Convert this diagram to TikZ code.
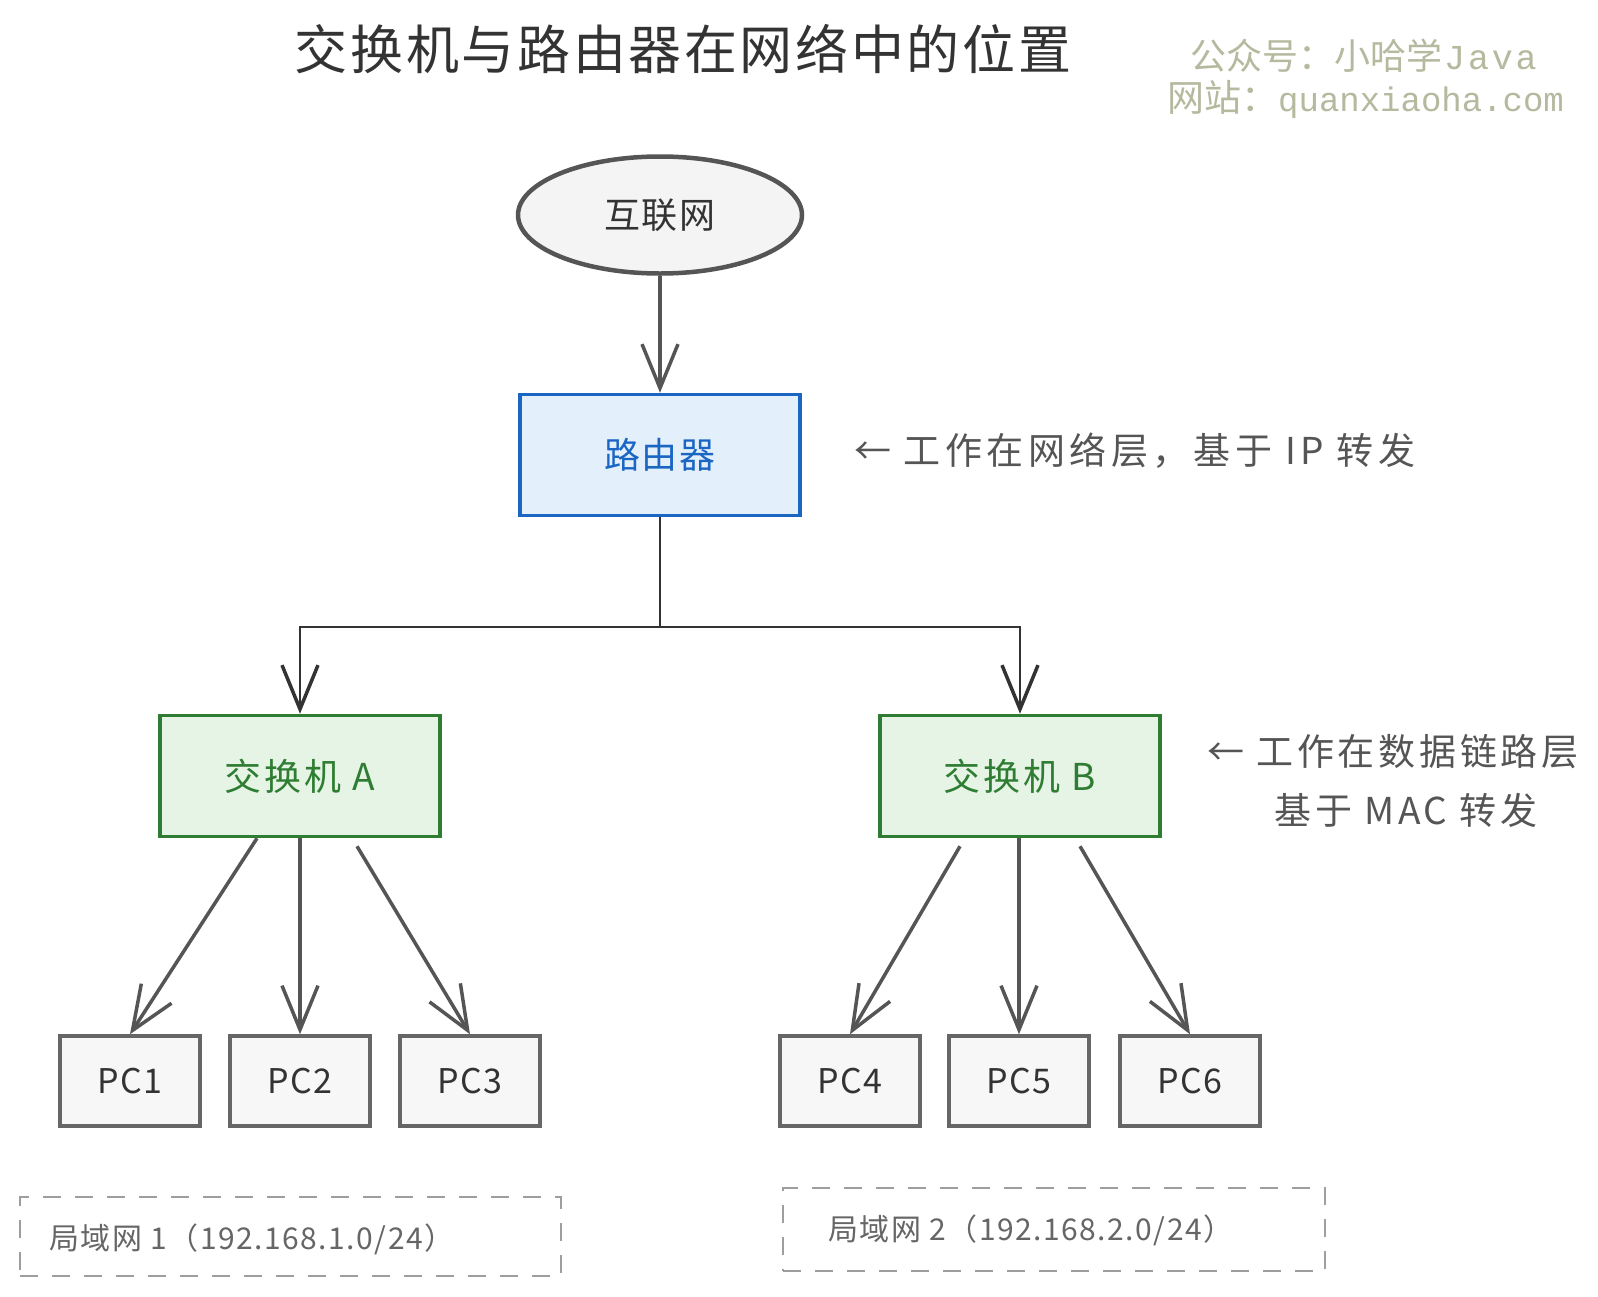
\documentclass[tikz,border=0pt]{standalone}
\usepackage{fontspec}
\setmainfont{Noto Sans CJK SC}
\newfontfamily\spfive{Noto Sans CJK SC}[LetterSpace=5]
\newfontfamily\spten{Noto Sans CJK SC}[LetterSpace=10]
\newfontfamily\sptwelve{Noto Sans CJK SC}[LetterSpace=12]
\newfontfamily\speight{Noto Sans CJK SC}[LetterSpace=8]
\newfontfamily\wmmono{Liberation Mono}
\newfontfamily\wmmonosp{Liberation Mono}[LetterSpace=8]
\usetikzlibrary{shapes.geometric,arrows.meta}
\definecolor{titlec}{HTML}{333333}
\definecolor{wmc}{HTML}{B5B99E}
\definecolor{inetfill}{HTML}{F4F4F4}
\definecolor{inetdraw}{HTML}{555555}
\definecolor{rfill}{HTML}{E3F0FC}
\definecolor{rdraw}{HTML}{1A66C2}
\definecolor{sfill}{HTML}{E5F4E5}
\definecolor{sdraw}{HTML}{2E7D32}
\definecolor{pcfill}{HTML}{F7F7F7}
\definecolor{pcdraw}{HTML}{666666}
\definecolor{annc}{HTML}{555555}
\definecolor{lanc}{HTML}{9E9E9E}
\definecolor{lantext}{HTML}{666666}
\definecolor{arrc}{HTML}{555555}
\definecolor{treec}{HTML}{333333}
\newcommand{\fs}[1]{\fontsize{#1}{#1}\selectfont}
\begin{document}
\begin{tikzpicture}[x=1pt,y=-1pt,
  inet/.style={ellipse, draw=inetdraw, fill=inetfill, line width=4.5pt, minimum width=284pt, minimum height=117pt, inner sep=0pt, text=titlec, font=\spfive\fs{36}},
  router/.style={rectangle, draw=rdraw, fill=rfill, line width=3.5pt, minimum width=280pt, minimum height=121pt, inner sep=0pt, text=rdraw, font=\spfive\fs{36}},
  switchbox/.style={rectangle, draw=sdraw, fill=sfill, line width=3.5pt, minimum width=280pt, minimum height=121pt, inner sep=0pt, text=sdraw, font=\speight\fs{37}},
  pcbox/.style={rectangle, draw=pcdraw, fill=pcfill, line width=3.5pt, minimum width=140pt, minimum height=90pt, inner sep=0pt, text=titlec, font=\spfive\fs{34}},
  annot/.style={inner sep=0pt, text=annc, font=\spten\fs{37}},
  lanbox/.style={rectangle, draw=lanc, line width=2.5pt, dash pattern=on 18pt off 14pt, inner sep=0pt},
  lantxt/.style={inner sep=0pt, anchor=west, text=lantext, font=\spfive\fs{30}},
  wm/.style={inner sep=0pt, anchor=west, text=wmc},
  arr/.style={draw=arrc, line width=3.5pt, -{Straight Barb[length=44pt,width=36pt,line width=3.5pt]}},
  tree/.style={draw=treec, line width=2.4pt},
  treearr/.style={draw=treec, line width=2.8pt, -{Straight Barb[length=44pt,width=36pt,line width=3.5pt]}}
]
\useasboundingbox[fill=white] (0,0) rectangle (1598,1296);

% title and watermark
\node[inner sep=0pt, text=titlec, font=\spfive\fs{53}] (title) at (683,49) {交换机与路由器在网络中的位置};
\node[wm] (wm1) at (1190,56) {\fs{36}公众号：小哈学\hspace{2pt}{\wmmonosp\fs{35}Java}};
\node[wm] (wm2) at (1167,99) {\fs{37}网站：{\wmmono\fs{34}quanxiaoha.com}};

% nodes
\node[inet] (inet) at (660,215) {互联网};
\node[router] (router) at (660,455) {路由器};
\node[annot, anchor=west, font=\sptwelve\fs{37}] (rnote) at (854,451) {← 工作在网络层，基于 IP 转发};

\node[switchbox] (swA) at (300,776) {交换机 A};
\node[switchbox] (swB) at (1020,776) {交换机 B};
\node[annot] (snote1) at (1393,752) {← 工作在数据链路层};
\node[annot] (snote2) at (1406,810) {基于 MAC 转发};

\node[pcbox] (pc1) at (130,1081) {PC1};
\node[pcbox] (pc2) at (300,1081) {PC2};
\node[pcbox] (pc3) at (470,1081) {PC3};
\node[pcbox] (pc4) at (850,1081) {PC4};
\node[pcbox] (pc5) at (1019,1081) {PC5};
\node[pcbox] (pc6) at (1190,1081) {PC6};

% LAN boxes
\node[lanbox, minimum width=541pt, minimum height=79pt] (lan1) at (290.5,1236.5) {};
\node[lantxt] (lan1t) at (49,1239) {局域网 1（192.168.1.0/24）};
\node[lanbox, minimum width=542pt, minimum height=83pt] (lan2) at (1054,1229.5) {};
\node[lantxt] (lan2t) at (828,1230) {局域网 2（192.168.2.0/24）};

% connectors
\draw[arr] (inet.south) -- (router.north);
\coordinate (j) at (660,627);
\draw[tree] (router.south) -- (j);
\draw[treearr] (j) -| (swA.north);
\draw[treearr] (j) -| (swB.north);

\draw[arr] ([xshift=-43pt]swA.south) -- (pc1.north);
\draw[arr] (swA.south) -- (pc2.north);
\draw[arr] ([xshift=57pt,yshift=-8pt]swA.south) -- (pc3.north);
\draw[arr] ([xshift=-60pt,yshift=-8pt]swB.south) -- (pc4.north);
\draw[arr] ([xshift=-1pt]swB.south) -- (pc5.north);
\draw[arr] ([xshift=60pt,yshift=-8pt]swB.south) -- (pc6.north);
\end{tikzpicture}
\end{document}
